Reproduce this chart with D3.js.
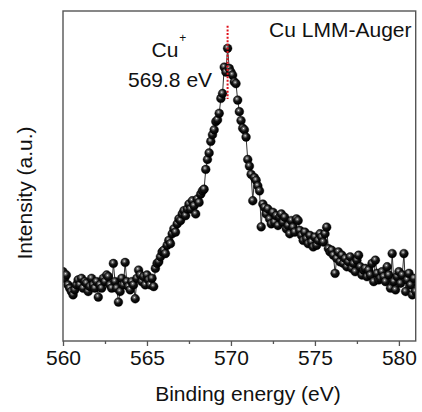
<!DOCTYPE html>
<html>
<head>
<meta charset="utf-8">
<script src="https://cdn.jsdelivr.net/npm/d3@7"></script>
<style>
  body { margin: 0; background: #fff; }
  svg { display: block; font-family: "Liberation Sans", Arial, sans-serif; }
</style>
</head>
<body>
<svg width="422" height="412"></svg>
<script>
// binding energy starts at 560.0 eV, one point every 0.1 eV
const startEnergy = 560.0
const stepEnergy = 0.1
const intensity = [
  21, 19, 20, 17, 16, 15, 14, 15.5, 17, 18.5,
  17, 19, 16, 18, 17.5, 15, 16.5, 19, 17, 16,
  18, 13.3, 17, 16, 19, 18, 20, 19.5, 17, 16,
  23.5, 18, 16, 11.8, 15, 19, 17, 23.8, 18, 16.5,
  15.5, 18, 17, 12.8, 19, 21.5, 20, 18, 19.5, 17,
  20, 18.5, 17, 19, 16.5, 22, 23.5, 24, 25.5, 27,
  27.5, 26.5, 29, 30.5, 29.5, 32.5, 34, 33, 35.5, 37,
  36.5, 38.5, 39.5, 38, 40, 41.5, 40, 42.5, 41, 38.5,
  43, 42, 44.5, 45.5, 46, 52, 55, 57, 60.5, 62.5,
  64, 66.5, 67, 69, 73.5, 75, 83, 81.5, 88.7, 82.6,
  81.5, 80.6, 78.5, 78, 73, 69.5, 66.8, 64.5, 64, 61.8,
  55, 53, 50.5, 42.5, 49.5, 48.7, 47, 45.5, 34.6, 41.5,
  40.5, 38.5, 40, 37, 35.5, 39, 36, 38, 35, 37.5,
  38.5, 36, 37.5, 34, 35, 32.5, 36.5, 34.5, 33, 37,
  36.5, 33.5, 32, 30.5, 33, 31, 29.5, 32, 30, 28.5,
  31.5, 29, 30.5, 32.5, 31.5, 30, 32.5, 34.5, 28, 27,
  27.5, 26, 20.5, 25, 27, 24, 26, 23.5, 25, 22.5,
  24, 25.5, 22, 23.5, 21, 24.5, 26, 22.5, 20, 21.5,
  22, 19.5, 21.5, 20, 23.5, 18, 24.5, 20.5, 18.5, 19,
  21, 19.5, 18, 22.5, 20, 16, 26.5, 18, 15.5, 19.5,
  21, 17.5, 20, 26.5, 15, 18.5, 20.5, 17, 14, 19,
  15
]
const majorTicks = [560, 565, 570, 575, 580]
const minorTicks = [562.5, 567.5, 572.5, 577.5]
const peakEnergy = 569.8
const peakMarkerRange = [73.3, 95.5]

const svg = d3.select('svg')
const margin = {top: 11, right: 6.3, bottom: 71, left: 63}
const width = 422 - margin.left - margin.right
const height = 412 - margin.top - margin.bottom
const graph = svg.append('g').attr('transform', 'translate(' + margin.left + ',' + margin.top + ')')

const x = d3.scaleLinear().domain([560, 581]).range([0, width])
const y = d3.scaleLinear().domain([0, 100]).range([height, 0])

const data = intensity.map((v, i) => ({e: startEnergy + i * stepEnergy, v: v}))

// shiny black ball markers
const defs = svg.append('defs')
const grad = defs.append('radialGradient').attr('id', 'ball')
    .attr('cx', '40%').attr('cy', '35%').attr('r', '60%')
grad.append('stop').attr('offset', '0%').attr('stop-color', '#f4f4f4')
grad.append('stop').attr('offset', '18%').attr('stop-color', '#777')
grad.append('stop').attr('offset', '50%').attr('stop-color', '#151515')
grad.append('stop').attr('offset', '100%').attr('stop-color', '#000')
defs.append('clipPath').attr('id', 'clip')
  .append('rect').attr('width', width).attr('height', height)

const plot = graph.append('g').attr('clip-path', 'url(#clip)')

const line = d3.line().x(d => x(d.e)).y(d => y(d.v))
plot.append('path').datum(data)
    .attr('d', line)
    .attr('fill', 'none')
    .attr('stroke', '#333')
    .attr('stroke-width', 1)

plot.selectAll('circle').data(data)
  .enter().append('circle')
    .attr('cx', d => x(d.e))
    .attr('cy', d => y(d.v))
    .attr('r', 4.4)
    .attr('fill', 'url(#ball)')
    .attr('stroke', '#000')
    .attr('stroke-width', 0.4)

// red dotted peak marker
graph.append('line')
    .attr('x1', x(peakEnergy)).attr('x2', x(peakEnergy))
    .attr('y1', y(peakMarkerRange[1])).attr('y2', y(peakMarkerRange[0]))
    .attr('stroke', '#e0101a')
    .attr('stroke-width', 2)
    .attr('stroke-dasharray', '2,1.6')

// frame
graph.append('rect')
    .attr('width', width).attr('height', height)
    .attr('fill', 'none')
    .attr('stroke', '#555')
    .attr('stroke-width', 1.4)

const xAxis = d3.axisBottom(x).tickValues(majorTicks).tickSize(5).tickPadding(4).tickFormat(d3.format('d'))
const xMinor = d3.axisBottom(x).tickValues(minorTicks).tickSize(3).tickFormat('')

const ax = graph.append('g').attr('transform', 'translate(0,' + height + ')').call(xAxis)
ax.select('.domain').remove()
ax.selectAll('line').attr('stroke', '#555').attr('stroke-width', 1.3)
ax.selectAll('text').attr('font-size', 21).attr('fill', '#111')
  .attr('font-family', '"Liberation Sans", Arial, sans-serif')
const axm = graph.append('g').attr('transform', 'translate(0,' + height + ')').call(xMinor)
axm.select('.domain').remove()
axm.selectAll('line').attr('stroke', '#555').attr('stroke-width', 1.3)

// titles
svg.append('text')
    .attr('x', 248).attr('y', 401)
    .attr('text-anchor', 'middle')
    .attr('font-size', 21).attr('fill', '#111')
    .text('Binding energy (eV)')
svg.append('text')
    .attr('transform', 'translate(32,193) rotate(-90)')
    .attr('text-anchor', 'middle')
    .attr('font-size', 21).attr('fill', '#111')
    .text('Intensity (a.u.)')

// annotations
svg.append('text')
    .attr('x', 411.5).attr('y', 37)
    .attr('text-anchor', 'end')
    .attr('font-size', 21).attr('fill', '#111')
    .text('Cu LMM-Auger')
const cu = svg.append('text')
    .attr('x', 151.5).attr('y', 57)
    .attr('font-size', 21).attr('fill', '#111')
cu.append('tspan').text('Cu')
cu.append('tspan').attr('dx', 1).attr('dy', -15).attr('font-size', 12).text('+')
svg.append('text')
    .attr('x', 128).attr('y', 87)
    .attr('font-size', 21).attr('fill', '#111')
    .text('569.8 eV')
</script>
</body>
</html>
